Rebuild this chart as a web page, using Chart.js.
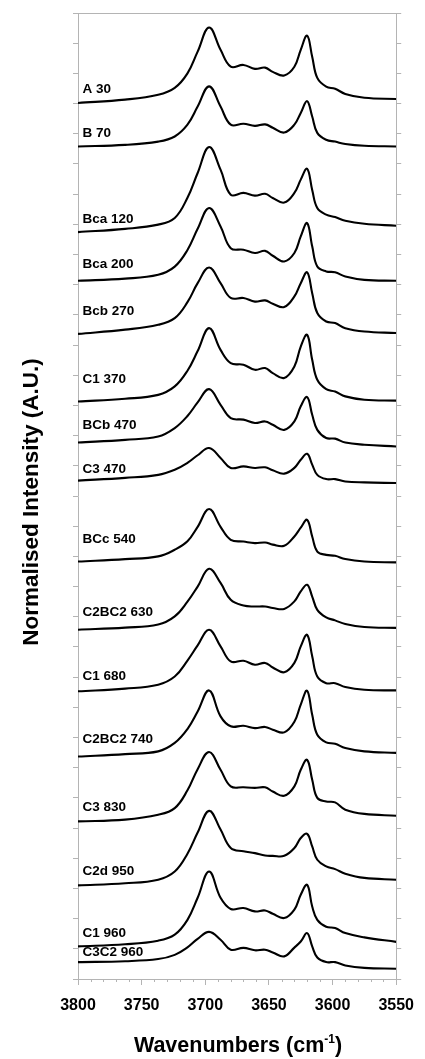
<!DOCTYPE html>
<html>
<head>
<meta charset="utf-8">
<title>OH stretching spectra</title>
<script src="https://cdn.jsdelivr.net/npm/chart.js@4/dist/chart.umd.min.js"></script>
<style>
  body { margin: 0; background: #fff; }
  canvas { display: block; }
</style>
</head>
<body>
<canvas id="myChart" width="425" height="1059"></canvas>
<script>
// wavenumber grid (cm-1) the curves were read at
const wavenumbers = [3800, 3763, 3737, 3724, 3714, 3706, 3697, 3688, 3680, 3670, 3661, 3653, 3647, 3638, 3630, 3625, 3620, 3616, 3612, 3605, 3598, 3590, 3575, 3550];

// offset spectra, top to bottom
const A30       = [29.02, 29.13, 29.29, 29.52, 30.00, 30.72, 31.52, 30.78, 30.22, 30.28, 30.15, 30.19, 30.05, 29.93, 30.22, 30.78, 31.25, 30.55, 29.85, 29.56, 29.49, 29.32, 29.19, 29.15];
const B70       = [27.58, 27.63, 27.74, 27.91, 28.30, 28.90, 29.57, 28.90, 28.30, 28.33, 28.26, 28.31, 28.20, 28.04, 28.30, 28.69, 29.08, 28.57, 28.03, 27.80, 27.74, 27.66, 27.60, 27.58];
const Bca120    = [24.74, 24.85, 24.99, 25.21, 25.88, 26.70, 27.56, 26.81, 25.98, 26.04, 25.95, 26.01, 25.87, 25.72, 26.04, 26.48, 26.84, 26.14, 25.54, 25.32, 25.24, 25.12, 25.02, 24.95];
const Bca200    = [23.13, 23.20, 23.33, 23.60, 24.15, 24.85, 25.54, 24.93, 24.21, 24.16, 24.05, 24.12, 23.96, 23.77, 24.05, 24.60, 25.04, 24.27, 23.60, 23.44, 23.41, 23.27, 23.16, 23.13];
const Bcb270    = [21.37, 21.51, 21.67, 21.89, 22.42, 23.05, 23.57, 23.05, 22.56, 22.56, 22.44, 22.48, 22.37, 22.26, 22.61, 23.05, 23.41, 22.72, 22.06, 21.78, 21.73, 21.56, 21.45, 21.40];
const C1_370    = [19.13, 19.22, 19.35, 19.63, 20.15, 20.80, 21.56, 20.84, 20.40, 20.35, 20.18, 20.24, 20.07, 19.91, 20.29, 20.95, 21.34, 20.51, 19.85, 19.54, 19.46, 19.30, 19.19, 19.16];
const BCb470    = [17.77, 17.86, 17.97, 18.25, 18.65, 19.10, 19.54, 19.02, 18.58, 18.53, 18.42, 18.47, 18.36, 18.19, 18.47, 18.97, 19.28, 18.69, 18.19, 17.92, 17.90, 17.77, 17.70, 17.64];
const C3_470    = [16.51, 16.60, 16.70, 16.87, 17.10, 17.35, 17.59, 17.26, 16.93, 16.98, 16.93, 16.95, 16.85, 16.74, 16.93, 17.20, 17.40, 17.04, 16.70, 16.56, 16.56, 16.48, 16.45, 16.43];
const BCc540    = [13.83, 13.91, 14.00, 14.22, 14.50, 14.98, 15.57, 14.98, 14.55, 14.49, 14.44, 14.46, 14.39, 14.35, 14.66, 14.95, 15.21, 14.66, 14.16, 14.05, 14.02, 13.91, 13.83, 13.80];
const C2BC2_630 = [11.57, 11.64, 11.74, 12.01, 12.50, 13.00, 13.59, 13.12, 12.56, 12.37, 12.34, 12.34, 12.29, 12.26, 12.51, 12.84, 13.06, 12.67, 12.23, 11.98, 11.88, 11.76, 11.66, 11.63];
const C1_680    = [9.53, 9.62, 9.75, 10.02, 10.55, 11.05, 11.57, 11.02, 10.52, 10.54, 10.41, 10.47, 10.32, 10.16, 10.47, 11.02, 11.40, 10.69, 10.02, 9.80, 9.80, 9.67, 9.58, 9.56];
const C2BC2_740 = [7.37, 7.45, 7.54, 7.82, 8.28, 8.86, 9.56, 8.70, 8.37, 8.39, 8.31, 8.35, 8.26, 8.17, 8.52, 9.09, 9.55, 8.75, 8.09, 7.84, 7.79, 7.65, 7.54, 7.49];
const C3_830    = [5.22, 5.28, 5.44, 5.66, 6.25, 6.95, 7.52, 6.93, 6.38, 6.35, 6.33, 6.35, 6.21, 6.07, 6.38, 6.93, 7.26, 6.60, 6.00, 5.88, 5.85, 5.61, 5.47, 5.41];
const C2d950    = [3.10, 3.17, 3.29, 3.56, 4.15, 4.85, 5.57, 4.95, 4.34, 4.23, 4.17, 4.09, 4.08, 4.08, 4.34, 4.67, 4.81, 4.39, 3.95, 3.73, 3.64, 3.49, 3.35, 3.29];
const C1_960    = [1.08, 1.15, 1.27, 1.47, 1.96, 2.69, 3.56, 2.69, 2.32, 2.35, 2.24, 2.27, 2.16, 2.02, 2.30, 2.79, 3.12, 2.40, 1.96, 1.73, 1.69, 1.52, 1.38, 1.23];
const C3C2_960  = [0.56, 0.59, 0.66, 0.80, 1.05, 1.33, 1.56, 1.30, 0.97, 1.03, 0.95, 0.97, 0.88, 0.75, 1.04, 1.24, 1.52, 1.08, 0.71, 0.56, 0.56, 0.45, 0.37, 0.34];

const seriesNames = ["A 30", "B 70", "Bca 120", "Bca 200", "Bcb 270", "C1 370", "BCb 470", "C3 470", "BCc 540", "C2BC2 630", "C1 680", "C2BC2 740", "C3 830", "C2d 950", "C1 960", "C3C2 960"];
const spectra = [A30, B70, Bca120, Bca200, Bcb270, C1_370, BCb470, C3_470, BCc540, C2BC2_630, C1_680, C2BC2_740, C3_830, C2d950, C1_960, C3C2_960];
// where the sample names sit (intensity units)
const labelY = [29.48, 28.02, 25.17, 23.68, 22.11, 19.85, 18.34, 16.90, 14.55, 12.14, 10.02, 7.93, 5.70, 3.56, 1.52, 0.88];
const labelWn = 3796.5;

const xTicks = [3800, 3750, 3700, 3650, 3600, 3550];
const xMin = 3550, xMax = 3800;
const yMin = 0, yMax = 32;

const FONT = '"Liberation Sans", Arial, Helvetica, sans-serif';
const GREY = '#b4b4b4';

const datasets = spectra.map((vals, i) => ({
  label: seriesNames[i],
  data: wavenumbers.map((w, j) => ({ x: w, y: vals[j] })),
  borderColor: '#000',
  borderWidth: 2.1,
  pointRadius: 0,
  fill: false,
  tension: 0.4
}));

// titles, sample names, minor ticks and the top frame line
const overlay = {
  id: 'overlay',
  afterDraw(chart) {
    const { ctx, chartArea: a } = chart;
    const x = chart.scales.x, y = chart.scales.y;
    ctx.save();
    ctx.strokeStyle = GREY;
    ctx.lineWidth = 1;
    ctx.beginPath();
    for (let w = xMin; w <= xMax; w += 10) {
      if (w % 50 === 0) continue;
      const px = Math.round(x.getPixelForValue(w)) + 0.5;
      ctx.moveTo(px, a.bottom);
      ctx.lineTo(px, a.bottom + 3);
    }
    ctx.moveTo(a.left, Math.round(a.top) + 0.5);
    ctx.lineTo(a.right, Math.round(a.top) + 0.5);
    ctx.stroke();

    ctx.fillStyle = '#000';
    ctx.font = 'bold 13.5px ' + FONT;
    ctx.textAlign = 'left';
    ctx.textBaseline = 'middle';
    seriesNames.forEach((n, i) => {
      ctx.fillText(n, x.getPixelForValue(labelWn), y.getPixelForValue(labelY[i]));
    });

    // y title
    ctx.save();
    ctx.translate(32, 502);
    ctx.rotate(-Math.PI / 2);
    ctx.textAlign = 'center';
    ctx.font = 'bold 22.5px ' + FONT;
    ctx.fillText('Normalised Intensity (A.U.)', 0, 0);
    ctx.restore();

    // x title with superscript
    const big = 'bold 21.5px ' + FONT, small = 'bold 12px ' + FONT;
    const p1 = 'Wavenumbers (cm', p2 = '-1', p3 = ')';
    ctx.font = big; const w1 = ctx.measureText(p1).width, w3 = ctx.measureText(p3).width;
    ctx.font = small; const w2 = ctx.measureText(p2).width;
    let sx = 238 - (w1 + w2 + w3) / 2;
    const base = 1052;
    ctx.textBaseline = 'alphabetic';
    ctx.textAlign = 'left';
    ctx.font = big; ctx.fillText(p1, sx, base); sx += w1;
    ctx.font = small; ctx.fillText(p2, sx, base - 9); sx += w2;
    ctx.font = big; ctx.fillText(p3, sx, base);
    ctx.restore();
  }
};

const yAxis = (pos, width) => ({
  position: pos,
  min: yMin,
  max: yMax,
  ticks: { stepSize: 1, display: false },
  grid: { drawOnChartArea: false, tickLength: 5, color: GREY },
  border: { color: GREY },
  afterFit: (s) => { s.width = width; }
});

const ctx = document.getElementById('myChart');
const myChart = new Chart(ctx, {
  type: 'line',
  data: { datasets: datasets },
  options: {
    responsive: false,
    animation: false,
    layout: { padding: { top: 13, left: 0, right: 0, bottom: 0 } },
    plugins: { legend: { display: false }, tooltip: { enabled: false } },
    scales: {
      x: {
        type: 'linear',
        reverse: true,
        min: xMin,
        max: xMax,
        afterBuildTicks: (s) => { s.ticks = xTicks.map(v => ({ value: v })); },
        ticks: {
          color: '#000',
          font: { family: FONT, size: 16, weight: 'bold' },
          padding: 11,
          maxRotation: 0,
          autoSkip: false,
          callback: (v) => String(v)
        },
        grid: { drawOnChartArea: false, tickLength: 6, color: GREY },
        border: { color: GREY },
        afterFit: (s) => { s.height = 80; }
      },
      y: yAxis('left', 78),
      y2: yAxis('right', 23)
    }
  },
  plugins: [overlay]
});
</script>
</body>
</html>
